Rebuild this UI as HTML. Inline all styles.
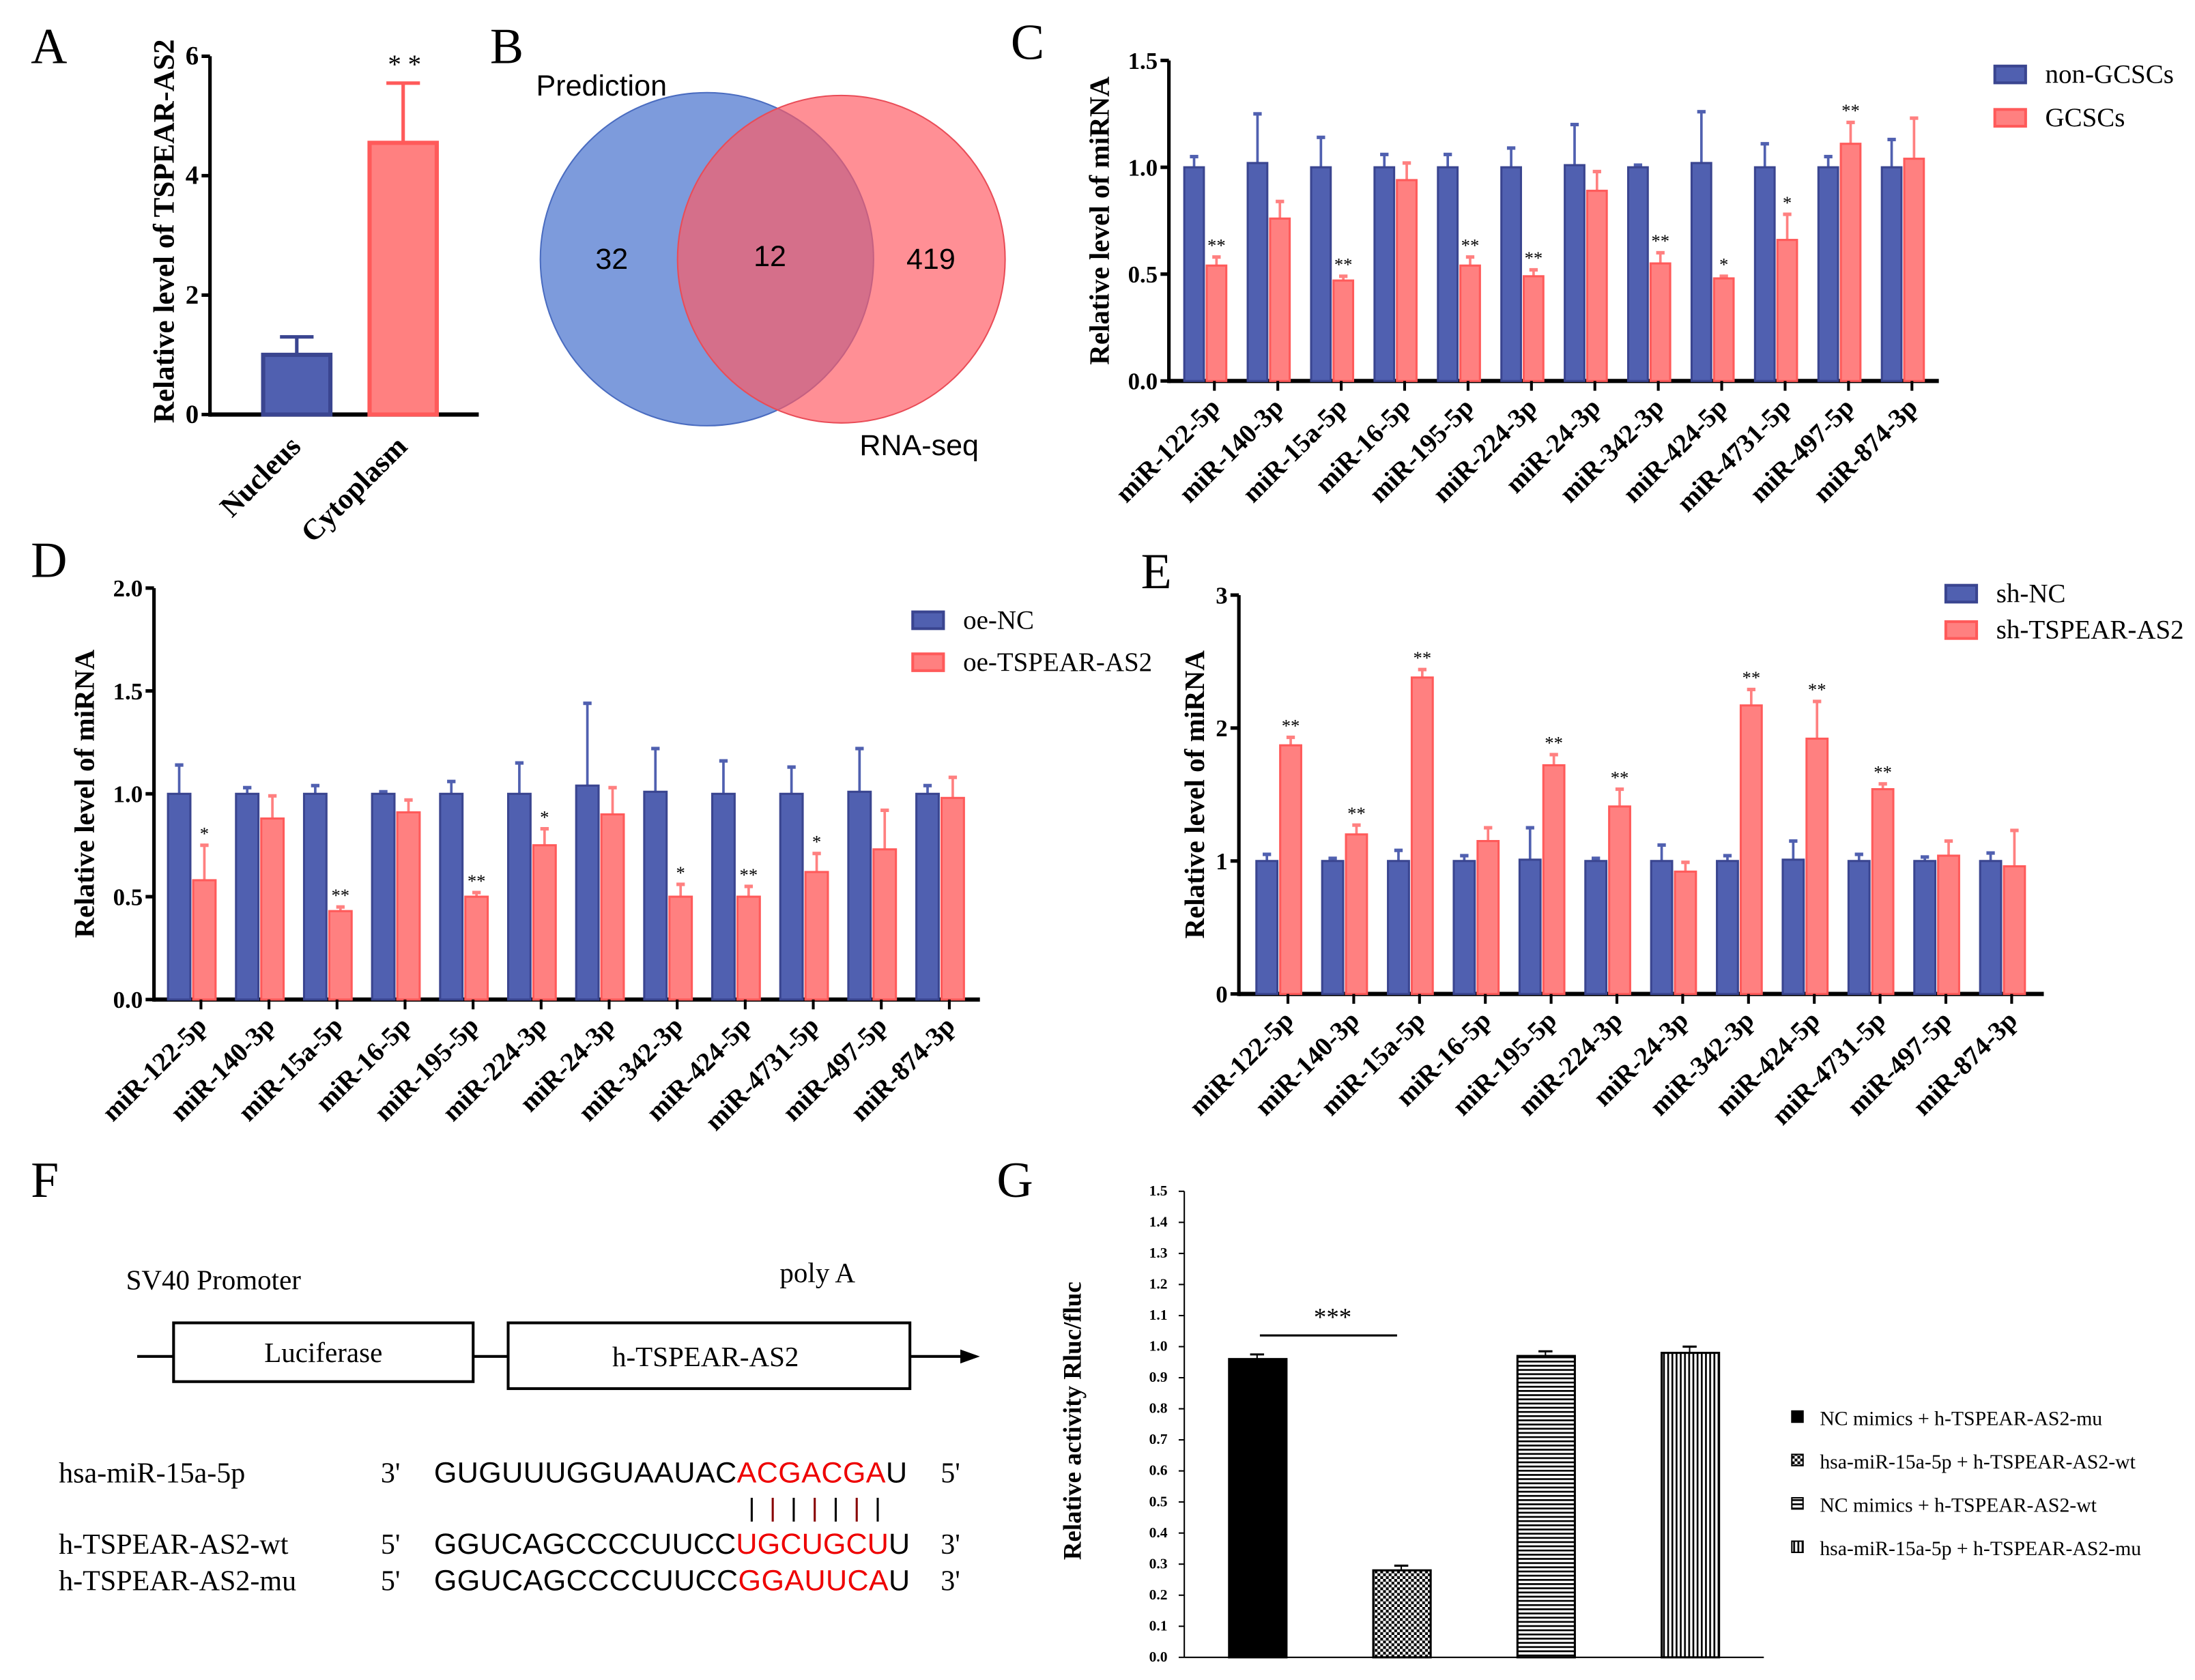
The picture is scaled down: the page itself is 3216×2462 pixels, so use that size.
<!DOCTYPE html>
<html><head><meta charset="utf-8"><style>
html,body{margin:0;padding:0;background:#fff;}
svg{display:block;}
text{font-family:"Liberation Serif",serif;}
.sans{font-family:"Liberation Sans",sans-serif;}
</style></head><body>
<svg id="fig" xmlns="http://www.w3.org/2000/svg" width="3216" height="2462" viewBox="0 0 1568 1200">
<defs>
<pattern id="checker" width="4" height="4" patternUnits="userSpaceOnUse"><rect width="4" height="4" fill="#fff"/><rect width="2" height="2" fill="#000"/><rect x="2" y="2" width="2" height="2" fill="#000"/></pattern>
<pattern id="hstripe" width="4" height="3" patternUnits="userSpaceOnUse"><rect width="4" height="3" fill="#fff"/><rect width="4" height="1.3" fill="#000"/></pattern>
<pattern id="vstripe" width="3" height="4" patternUnits="userSpaceOnUse"><rect width="3" height="4" fill="#fff"/><rect width="1.3" height="4" fill="#000"/></pattern>
</defs>
<g font-size="36">
<text x="22" y="45">A</text>
<text x="350" y="45">B</text>
<text x="722" y="42">C</text>
<text x="22" y="412">D</text>
<text x="815" y="420">E</text>
<text x="22" y="855">F</text>
<text x="712" y="855">G</text>
</g>
<g>
<circle cx="505" cy="185" r="119" fill="#5d82d3" fill-opacity="0.8" stroke="#4a6cc0"/>
<circle cx="601" cy="185" r="117" fill="#ff5a63" fill-opacity="0.68" stroke="#e94c57"/>
<text class="sans" x="383" y="68" font-size="21">Prediction</text>
<text class="sans" x="437" y="192" font-size="21" text-anchor="middle">32</text>
<text class="sans" x="550" y="190" font-size="21" text-anchor="middle">12</text>
<text class="sans" x="665" y="192" font-size="21" text-anchor="middle">419</text>
<text class="sans" x="614" y="325" font-size="21">RNA-seq</text>
</g>
<g>
<text x="90" y="921" font-size="20">SV40 Promoter</text>
<text x="557" y="916" font-size="20">poly A</text>
<line x1="98" y1="969" x2="692" y2="969" stroke="#000" stroke-width="2"/>
<polygon points="700,969 686,964 686,974" fill="#000"/>
<rect x="124" y="945" width="214" height="42" fill="#fff" stroke="#000" stroke-width="2"/>
<text x="231" y="973" font-size="20" text-anchor="middle">Luciferase</text>
<rect x="363" y="945" width="287" height="47" fill="#fff" stroke="#000" stroke-width="2"/>
<text x="504" y="976" font-size="20" text-anchor="middle">h-TSPEAR-AS2</text>
<g font-size="20.5">
<text x="42" y="1059">hsa-miR-15a-5p</text><text x="272" y="1059">3'</text><text x="672" y="1059">5'</text>
<text x="42" y="1110">h-TSPEAR-AS2-wt</text><text x="272" y="1110">5'</text><text x="672" y="1110">3'</text>
<text x="42" y="1136">h-TSPEAR-AS2-mu</text><text x="272" y="1136">5'</text><text x="672" y="1136">3'</text>
</g>
<g class="sans" font-size="21">
<text class="sans" x="310" y="1059" textLength="338">GUGUUUGGUAAUAC<tspan fill="#e00">ACGACGA</tspan>U</text>
<text class="sans" x="310" y="1110" textLength="340">GGUCAGCCCCUUCC<tspan fill="#e00">UGCUGCU</tspan>U</text>
<text class="sans" x="310" y="1136" textLength="340">GGUCAGCCCCUUCC<tspan fill="#e00">GGAUUCA</tspan>U</text>
</g>
<g stroke-width="1.5">
<line x1="537" y1="1070" x2="537" y2="1087" stroke="#000"/><line x1="552" y1="1070" x2="552" y2="1087" stroke="#800"/>
<line x1="567" y1="1070" x2="567" y2="1087" stroke="#000"/><line x1="582" y1="1070" x2="582" y2="1087" stroke="#800"/>
<line x1="597" y1="1070" x2="597" y2="1087" stroke="#000"/><line x1="612" y1="1070" x2="612" y2="1087" stroke="#800"/>
<line x1="627" y1="1070" x2="627" y2="1087" stroke="#000"/>
</g>
</g>
<g id="charts"></g>
</svg>
<script>
// Panel A
const aCats=["Nucleus","Cytoplasm"], aVals=[1.0,4.55], aErr=[1.3,5.55];
// Panel C
const cCats=["miR-122-5p","miR-140-3p","miR-15a-5p","miR-16-5p","miR-195-5p","miR-224-3p","miR-24-3p","miR-342-3p","miR-424-5p","miR-4731-5p","miR-497-5p","miR-874-3p"];
const cBlue=[1.0,1.02,1.0,1.0,1.0,1.0,1.01,1.0,1.02,1.0,1.0,1.0];
const cBlueErr=[1.05,1.25,1.14,1.06,1.06,1.09,1.2,1.01,1.26,1.11,1.05,1.13];
const cRed=[0.54,0.76,0.47,0.94,0.54,0.49,0.89,0.55,0.48,0.66,1.11,1.04];
const cRedErr=[0.58,0.84,0.49,1.02,0.58,0.52,0.98,0.6,0.49,0.78,1.21,1.23];
const cStars=["**","","**","","**","**","","**","*","*","**",""];
// Panel D
const dBlue=[1.0,1.0,1.0,1.0,1.0,1.0,1.04,1.01,1.0,1.0,1.01,1.0];
const dBlueErr=[1.14,1.03,1.04,1.01,1.06,1.15,1.44,1.22,1.16,1.13,1.22,1.04];
const dRed=[0.58,0.88,0.43,0.91,0.5,0.75,0.9,0.5,0.5,0.62,0.73,0.98];
const dRedErr=[0.75,0.99,0.45,0.97,0.52,0.83,1.03,0.56,0.55,0.71,0.92,1.08];
const dStars=["*","","**","","**","*","","*","**","*","",""];
// Panel E
const eBlue=[1.0,1.0,1.0,1.0,1.01,1.0,1.0,1.0,1.01,1.0,1.0,1.0];
const eBlueErr=[1.05,1.02,1.08,1.04,1.25,1.02,1.12,1.04,1.15,1.05,1.03,1.06];
const eRed=[1.87,1.2,2.38,1.15,1.72,1.41,0.92,2.17,1.92,1.54,1.04,0.96];
const eRedErr=[1.93,1.27,2.44,1.25,1.8,1.54,0.99,2.29,2.2,1.58,1.15,1.23];
const eStars=["**","**","**","","**","**","","**","**","**","",""];
// Panel G
const gLabels=["NC mimics + h-TSPEAR-AS2-mu","hsa-miR-15a-5p + h-TSPEAR-AS2-wt","NC mimics + h-TSPEAR-AS2-wt","hsa-miR-15a-5p + h-TSPEAR-AS2-mu"];
const gVals=[0.96,0.28,0.97,0.98];
const gErr=[0.975,0.295,0.985,1.0];
const gTicks=[0,0.1,0.2,0.3,0.4,0.5,0.6,0.7,0.8,0.9,1.0,1.1,1.2,1.3,1.4,1.5];

const NS="http://www.w3.org/2000/svg";
const root=document.getElementById('charts');
function el(tag,attrs,parent,txt){const e=document.createElementNS(NS,tag);for(const k in attrs)e.setAttribute(k,attrs[k]);if(txt!==undefined)e.textContent=txt;(parent||root).appendChild(e);return e;}
const BLUE="#5060b0",BLUEE="#3a4590",RED="#ff8080",REDE="#ff5a5a";

function axisY(g,x,y0,y1,vmax,ticks,fmt,fs){
  el('line',{x1:x,y1:y0+1.5,x2:x,y2:y1,stroke:'#000','stroke-width':2.5},g);
  ticks.forEach(t=>{const y=y0-(y0-y1)*t/vmax;
    el('line',{x1:x-6,y1:y,x2:x,y2:y,stroke:'#000','stroke-width':2.5},g);
    el('text',{x:x-8,y:y+6,'font-size':fs,'font-weight':'bold','text-anchor':'end'},g,fmt(t));});
}
function yTitle(g,x,yc,txt,fs){el('text',{x:x,y:yc,'font-size':fs,'font-weight':'bold','text-anchor':'middle',transform:`rotate(-90 ${x} ${yc})`},g,txt);}

function grouped(name,o){
  const g=el('g',{});
  
  
  const sc=v=>o.y0-(o.y0-o.y1)*v/o.vmax;
  axisY(g,o.ax,o.y0,o.y1,o.vmax,o.ticks,o.fmt,17);
  el('line',{x1:o.ax,y1:o.y0,x2:o.xend,y2:o.y0,stroke:'#000','stroke-width':3},g);
  yTitle(g,o.titleX,(o.y0+o.y1)/2,"Relative  level of miRNA",20);
  cCats.forEach((c,i)=>{
    const cx=o.first+i*o.step;
    const bx=cx-o.bw/2, rx=cx+o.gap-o.bw/2+o.bw;
    el('line',{x1:cx,y1:sc(o.blue[i]),x2:cx,y2:sc(o.blueErr[i]),stroke:BLUE,'stroke-width':1.8},g);
    el('line',{x1:cx-3,y1:sc(o.blueErr[i]),x2:cx+3,y2:sc(o.blueErr[i]),stroke:BLUE,'stroke-width':2.5},g);
    const b=el('rect',{x:bx,y:sc(o.blue[i]),width:o.bw,height:o.y0-sc(o.blue[i]),fill:BLUE,stroke:BLUEE,'stroke-width':1.5},g);
    
    
    const rcx=rx+o.bw/2;
    el('line',{x1:rcx,y1:sc(o.red[i]),x2:rcx,y2:sc(o.redErr[i]),stroke:RED,'stroke-width':1.8},g);
    el('line',{x1:rcx-3,y1:sc(o.redErr[i]),x2:rcx+3,y2:sc(o.redErr[i]),stroke:RED,'stroke-width':2.5},g);
    const r=el('rect',{x:rx,y:sc(o.red[i]),width:o.bw,height:o.y0-sc(o.red[i]),fill:RED,stroke:REDE,'stroke-width':1.5},g);
    
    
    if(o.stars[i]) el('text',{x:rcx,y:sc(o.redErr[i])-4,'font-size':13,'text-anchor':'middle'},g,o.stars[i]);
    const tx=cx+o.step*0.32;
    el('line',{x1:tx,y1:o.y0,x2:tx,y2:o.y0+7,stroke:'#000','stroke-width':2},g);
    el('text',{x:tx+5,y:o.y0+20,'font-size':19,'font-weight':'bold','text-anchor':'end',transform:`rotate(-45 ${tx+5} ${o.y0+20})`},g,c);
  });
  o.legend.forEach((l,i)=>{
    const ly=o.ly+i*o.lstep;
    el('rect',{x:o.lx,y:ly-6,width:22,height:12,fill:i?RED:BLUE,stroke:i?REDE:BLUEE,'stroke-width':2},g);
    el('text',{x:o.lx+36,y:ly+6,'font-size':19},g,l);
  });
}
grouped('chart-c',{ax:835,y0:272,y1:43,vmax:1.5,xend:1385,first:853,step:45.3,bw:14,gap:2,ticks:[0,0.5,1,1.5],fmt:t=>t.toFixed(1),titleX:792,blue:cBlue,blueErr:cBlueErr,red:cRed,redErr:cRedErr,stars:cStars,legend:["non-GCSCs","GCSCs"],lx:1425,ly:53,lstep:31});
grouped('chart-d',{ax:110,y0:714,y1:420,vmax:2.0,xend:700,first:128,step:48.6,bw:16,gap:2,ticks:[0,0.5,1,1.5,2],fmt:t=>t.toFixed(1),titleX:67,blue:dBlue,blueErr:dBlueErr,red:dRed,redErr:dRedErr,stars:dStars,legend:["oe-NC","oe-TSPEAR-AS2"],lx:652,ly:443,lstep:30});
grouped('chart-e',{ax:885,y0:710,y1:425,vmax:3,xend:1460,first:905,step:47,bw:15,gap:2,ticks:[0,1,2,3],fmt:t=>String(t),titleX:860,blue:eBlue,blueErr:eBlueErr,red:eRed,redErr:eRedErr,stars:eStars,legend:["sh-NC","sh-TSPEAR-AS2"],lx:1390,ly:424,lstep:26});

// Panel A
(function(){
  const g=el('g',{});
  
  
  const y0=296,y1=40,vmax=6,sc=v=>y0-(y0-y1)*v/vmax;
  el('line',{x1:150,y1:y0,x2:342,y2:y0,stroke:'#000','stroke-width':3},g);
  axisY(g,150,y0,y1,vmax,[0,2,4,6],t=>String(t),19);
  yTitle(g,124,165,"Relative  level of TSPEAR-AS2",21);
  const xs=[212,288],cols=[[BLUE,BLUEE],[RED,REDE]];
  aCats.forEach((c,i)=>{
    const cx=xs[i];
    el('line',{x1:cx,y1:sc(aVals[i]),x2:cx,y2:sc(aErr[i]),stroke:cols[i][1],'stroke-width':2.5},g);
    el('line',{x1:cx-12,y1:sc(aErr[i]),x2:cx+12,y2:sc(aErr[i]),stroke:cols[i][1],'stroke-width':2.5},g);
    const b=el('rect',{x:cx-24,y:sc(aVals[i]),width:48,height:y0-sc(aVals[i]),fill:cols[i][0],stroke:cols[i][1],'stroke-width':3},g);
    
    
    el('text',{x:cx+4,y:y0+24,'font-size':21,'font-weight':'bold','text-anchor':'end',transform:`rotate(-45 ${cx+4} ${y0+24})`},g,c);
  });
  el('text',{x:289,y:52,'font-size':19,'text-anchor':'middle'},g,"* *");
})();

// Panel G
(function(){
  const g=el('g',{});
  
  
  const y0=1184,y1=851,vmax=1.5,sc=v=>y0-(y0-y1)*v/vmax;
  el('line',{x1:846,y1:y0,x2:846,y2:y1,stroke:'#000','stroke-width':1},g);
  el('line',{x1:846,y1:y0,x2:1260,y2:y0,stroke:'#000','stroke-width':1},g);
  gTicks.forEach(t=>{const y=sc(t);
    el('line',{x1:842,y1:y,x2:846,y2:y,stroke:'#000'},g);
    el('text',{x:834,y:y+3,'font-size':10.5,'font-weight':'bold','text-anchor':'end'},g,t.toFixed(1));});
  yTitle(g,772,1015,"Relative activity Rluc/fluc",18);
  const fills=['#000','url(#checker)','url(#hstripe)','url(#vstripe)'];
  gVals.forEach((v,i)=>{
    const cx=898+i*103;
    el('line',{x1:cx,y1:sc(v),x2:cx,y2:sc(gErr[i]),stroke:'#000'},g);
    el('line',{x1:cx-5,y1:sc(gErr[i]),x2:cx+5,y2:sc(gErr[i]),stroke:'#000','stroke-width':1.5},g);
    const b=el('rect',{x:cx-20,y:sc(v),width:41,height:y0-sc(v),fill:fills[i],stroke:'#000','stroke-width':1.5},g);
    
    
    const ly=1013+i*31;
    el('rect',{x:1280,y:ly-5,width:8,height:8,fill:fills[i],stroke:'#000'},g);
    el('text',{x:1300,y:ly+5,'font-size':14.5},g,gLabels[i]);
  });
  el('line',{x1:900,y1:954,x2:998,y2:954,stroke:'#000','stroke-width':1.5},g);
  el('text',{x:952,y:947,'font-size':18,'text-anchor':'middle'},g,"***");
})();
</script>
</body></html>
